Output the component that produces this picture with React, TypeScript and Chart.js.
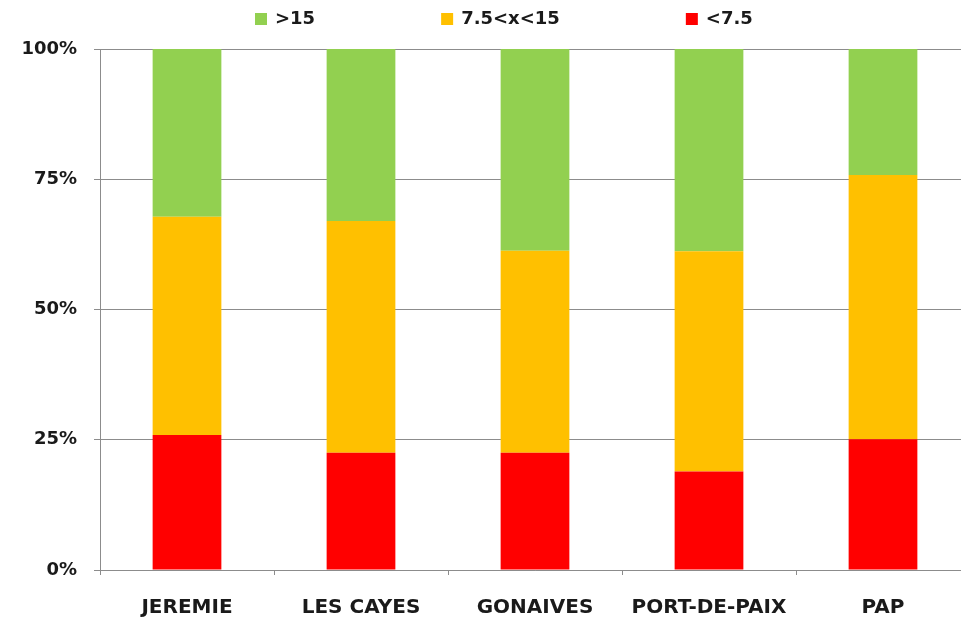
import React, { useEffect, useRef } from "react";
import { Chart, registerables } from "chart.js";

Chart.register(...registerables);

const categories = ["JEREMIE", "LES CAYES", "GONAIVES", "PORT-DE-PAIX", "PAP"];
const lowValues = [25.9, 22.5, 22.5, 18.9, 25.1];
const midValues = [41.9, 44.5, 38.8, 42.3, 50.7];
const highValues = [32.2, 33.0, 38.7, 38.8, 24.2];
const seriesLabels = ["<7.5", "7.5<x<15", ">15"];
const seriesColors = ["#FF0000", "#FFC000", "#92D050"];
const yTicks = [0, 25, 50, 75, 100];

const FONT = "'DejaVu Sans', sans-serif";
const GRID = "#8c8c8c";

const legendPlugin = {
  id: "topLegend",
  afterDraw(chart: any) {
    const ctx = chart.ctx;
    const ds = chart.data.datasets.slice().reverse();
    ctx.save();
    ctx.font = `bold 18px ${FONT}`;
    ctx.textBaseline = "middle";
    ctx.textAlign = "left";
    let x = 255;
    const yMid = 19;
    ds.forEach((d: any) => {
      ctx.fillStyle = d.backgroundColor;
      ctx.fillRect(x, yMid - 6, 12, 12);
      ctx.fillStyle = "#1a1a1a";
      ctx.fillText(d.label, x + 20, yMid);
      const w = ctx.measureText(d.label).width;
      x += 20 + w + 126;
    });
    ctx.restore();
  },
};

export default function App() {
  const ref = useRef<HTMLCanvasElement>(null);
  useEffect(() => {
    if (!ref.current) return;
    const values = [lowValues, midValues, highValues];
    const chart = new Chart(ref.current, {
      type: "bar",
      data: {
        labels: categories,
        datasets: values.map((v, i) => ({
          label: seriesLabels[i],
          data: v,
          backgroundColor: seriesColors[i],
          borderWidth: 0,
          barPercentage: 0.395,
          categoryPercentage: 1,
        })),
      },
      options: {
        responsive: false,
        animation: false,
        layout: { padding: { top: 49, right: 6, left: 0, bottom: 0 } },
        plugins: {
          legend: { display: false },
          tooltip: { enabled: false },
        },
        scales: {
          x: {
            stacked: true,
            grid: {
              display: true,
              drawOnChartArea: false,
              drawTicks: true,
              tickLength: 5,
              color: GRID,
              offset: true,
            },
            border: { color: GRID, width: 1 },
            ticks: {
              color: "#1a1a1a",
              font: { family: FONT, size: 20, weight: "bold" },
              padding: 21,
              maxRotation: 0,
              autoSkip: false,
            },
            afterFit: (s: any) => {
              s.height = 53;
            },
          },
          y: {
            stacked: true,
            min: 0,
            max: 100,
            afterBuildTicks: (s: any) => {
              s.ticks = yTicks.map((v) => ({ value: v }));
            },
            grid: {
              color: GRID,
              tickLength: 6,
              drawTicks: true,
            },
            border: { color: GRID, width: 1 },
            ticks: {
              color: "#1a1a1a",
              font: { family: FONT, size: 18, weight: "bold" },
              padding: 17,
              callback: (v: any) => `${v}%`,
            },
            afterFit: (s: any) => {
              s.width = 100;
            },
          },
        },
      },
      plugins: [legendPlugin],
    });
    return () => chart.destroy();
  }, []);
  return (
    <div
      style={{
        position: "fixed",
        left: 0,
        top: 0,
        width: 961,
        height: 623,
        overflow: "hidden",
        background: "#fff",
      }}
    >
      <canvas ref={ref} width={976} height={623} style={{ width: 976, height: 623, display: "block" }} />
    </div>
  );
}
